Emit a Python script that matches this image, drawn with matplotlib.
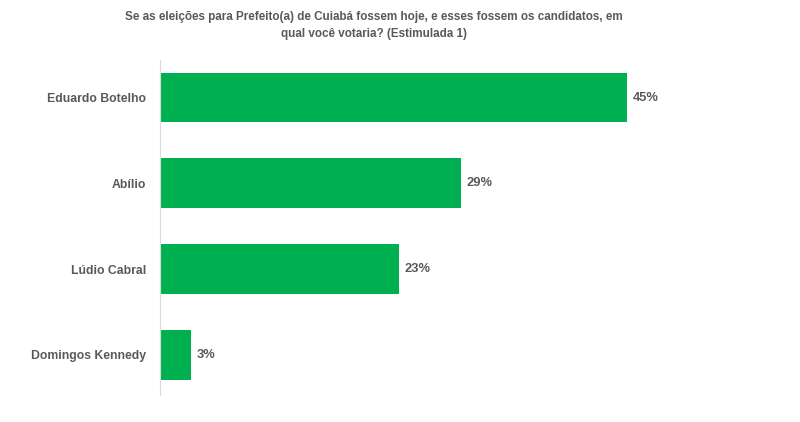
import matplotlib.pyplot as plt

candidatos = ['Eduardo Botelho', 'Abílio', 'Lúdio Cabral', 'Domingos Kennedy']
votos = [45, 29, 23, 3]
titulo = ('Se as eleições para Prefeito(a) de Cuiabá fossem hoje, e esses fossem os candidatos, em\n'
          'qual você votaria? (Estimulada 1)')

plt.rcParams['font.family'] = ['Liberation Sans Narrow', 'Liberation Sans', 'DejaVu Sans']
cinza = '#595959'

fig = plt.figure(figsize=(8, 4.22), dpi=100)
ax = fig.add_axes([0.2, 0.064, 0.775, 0.794])

pos = range(len(candidatos))
ax.barh(pos, votos, height=0.58, color='#00B050')
for p, v in zip(pos, votos):
    ax.text(v + 0.5, p, f'{v}%', va='center', ha='left', fontsize=9.3,
            fontweight='bold', color=cinza)

ax.set_yticks(list(pos))
ax.set_yticklabels(candidatos, fontsize=8.8, fontweight='bold', color=cinza)
ax.tick_params(axis='y', length=0, pad=10)
ax.set_ylim(3.47, -0.44)
ax.set_xlim(0, 59.7)
ax.set_xticks([])
for s in ['top', 'right', 'bottom']:
    ax.spines[s].set_visible(False)
ax.spines['left'].set_color('#d9d9d9')

fig.text(0.467, 0.975, titulo, ha='center', va='top', fontsize=8.4,
         fontweight='bold', color=cinza, linespacing=1.6)

fig.savefig('out.png', dpi=100)
